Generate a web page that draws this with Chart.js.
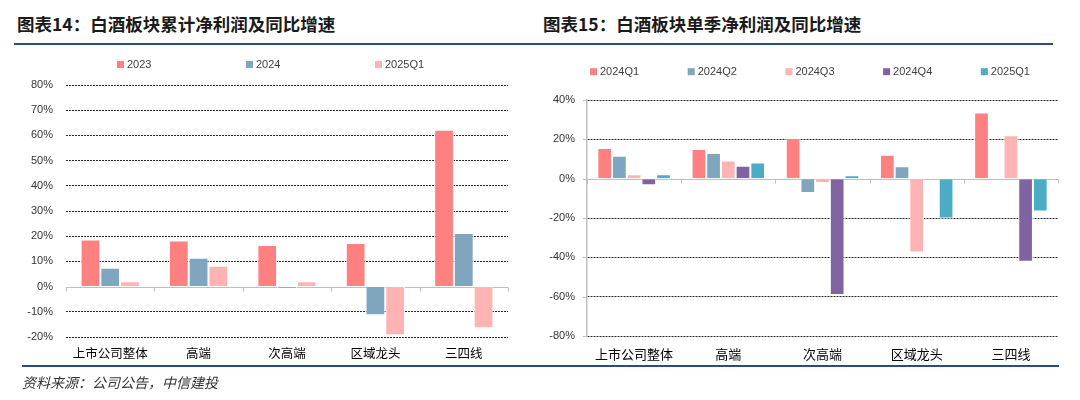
<!DOCTYPE html>
<html>
<head>
<meta charset="utf-8">
<script src="https://cdn.jsdelivr.net/npm/chart.js@4/dist/chart.umd.min.js"></script>
<style>
  html, body { margin: 0; padding: 0; background: #fff; }
  body { width: 1080px; height: 400px; position: relative; overflow: hidden; }
  .title { position: absolute; top: 12px; font: 700 17.5px "Noto Sans CJK SC", sans-serif; color: #1a1a1a; line-height: 24px; white-space: nowrap; }
  .rule { position: absolute; height: 2px; background: #2b4c7e; }
  .src { position: absolute; left: 22px; top: 372px; font: italic 14px "Noto Sans CJK SC", sans-serif; color: #333; line-height: 20px; }
  canvas { position: absolute; top: 0; }
</style>
</head>
<body>
<div class="title" style="left:17px">图表14：白酒板块累计净利润及同比增速</div>
<div class="title" style="left:543px">图表15：白酒板块单季净利润及同比增速</div>
<div class="rule" style="left:14px; width:1039px; top:43px"></div>
<canvas id="cumChart" width="540" height="400" style="left:0"></canvas>
<canvas id="qtrChart" width="540" height="400" style="left:540px"></canvas>
<div class="rule" style="left:22px; width:1037px; top:365px"></div>
<div class="src">资料来源：公司公告，中信建投</div>
<script>
const categories = ['上市公司整体', '高端', '次高端', '区域龙头', '三四线'];

// 累计净利润同比增速 (%)
const cumLabels = ['2023', '2024', '2025Q1'];
const cum2023 = [18.7, 18.3, 16.5, 17.3, 62.2];
const cum2024 = [7.5, 11.4, -0.7, -11.4, 21.3];
const cum2025Q1 = [2.1, 8.3, 2.1, -19.3, -16.5];

// 单季净利润同比增速 (%)
const qtrLabels = ['2024Q1', '2024Q2', '2024Q3', '2024Q4', '2025Q1'];
const q2024Q1 = [15.6, 15.1, 20.7, 12.2, 33.7];
const q2024Q2 = [11.7, 13.1, -7.3, 6.3, null];
const q2024Q3 = [2.2, 9.2, -2.2, -37.6, 22.1];
const q2024Q4 = [-3.3, 6.6, -59.2, null, -42.2];
const q2025Q1 = [2.2, 8.2, 1.7, -20.3, -16.7];

const RED = '#ff8080', BLUE = '#7fa6be', PINK = '#ffb3b3', PURPLE = '#8064a2', TEAL = '#4bacc6';

const numFont = { family: '"Liberation Sans", Arial, sans-serif', size: 11 };
const catFont = { family: '"Noto Sans CJK SC", sans-serif', size: 12.5 };

// legend drawn with fixed pitch like the Excel original
const flatLegend = {
  id: 'flatLegend',
  afterDraw(chart, args, opts) {
    const ctx = chart.ctx;
    ctx.save();
    ctx.font = '11px "Liberation Sans", Arial, sans-serif';
    ctx.textBaseline = 'middle';
    ctx.textAlign = 'left';
    chart.data.datasets.forEach((ds, i) => {
      const x = opts.x + i * opts.step;
      ctx.fillStyle = ds.backgroundColor;
      ctx.fillRect(x, opts.y - 3.5, 7, 7);
      ctx.fillStyle = '#404040';
      ctx.fillText(ds.label, x + 10, opts.y);
    });
    ctx.restore();
  }
};

// zero line with category tick marks, plus optional y tick marks
const axisMarks = {
  id: 'axisMarks',
  beforeDatasetsDraw(chart, args, opts) {
    const { ctx, chartArea: a } = chart;
    const y0 = Math.round(chart.scales.y.getPixelForValue(0)) + 0.5;
    const n = chart.data.labels.length;
    ctx.save();
    ctx.strokeStyle = '#bfbfbf';
    ctx.lineWidth = 1;
    ctx.beginPath();
    ctx.moveTo(a.left, y0);
    ctx.lineTo(a.right, y0);
    for (let i = 0; i <= n; i++) {
      const x = Math.round(a.left + i * (a.right - a.left) / n) + 0.5;
      ctx.moveTo(x, y0);
      ctx.lineTo(x, y0 + 4);
    }
    if (opts.yTicks) {
      chart.scales.y.ticks.forEach(t => {
        const y = Math.round(chart.scales.y.getPixelForValue(t.value)) + 0.5;
        ctx.moveTo(a.left - 4, y);
        ctx.lineTo(a.left, y);
      });
    }
    ctx.stroke();
    ctx.restore();
  }
};

function makeDataset(label, data, color) {
  return {
    label, data,
    backgroundColor: color,
    borderColor: 'rgba(255,255,255,0.85)',
    borderWidth: 1
  };
}

function baseOptions(cfg) {
  return {
    responsive: false,
    animation: false,
    layout: { padding: cfg.padding },
    plugins: {
      legend: { display: false },
      tooltip: { enabled: false },
      flatLegend: cfg.legend,
      axisMarks: { yTicks: cfg.yAxisLine }
    },
    datasets: { bar: { categoryPercentage: cfg.catPct, barPercentage: 1 } },
    scales: {
      x: {
        grid: { display: false, drawTicks: false },
        border: { display: false },
        ticks: { font: cfg.catFont, color: '#000', padding: cfg.xPad, maxRotation: 0, autoSkip: false },
        afterFit: s => { s.height = 30; }
      },
      y: {
        min: cfg.min, max: cfg.max,
        ticks: {
          stepSize: cfg.step, font: numFont, color: '#333', padding: cfg.yPad,
          callback: v => v + '%'
        },
        grid: {
          drawTicks: false,
          color: c => (c.tick && c.tick.value === 0) ? 'rgba(0,0,0,0)' : '#2a2a2a',
          lineWidth: 1
        },
        border: { display: cfg.yAxisLine, color: '#bfbfbf', width: 1.5, dash: [2, 1] },
        afterFit: s => { s.width = cfg.yWidth; }
      }
    }
  };
}

new Chart(document.getElementById('cumChart'), {
  type: 'bar',
  data: {
    labels: categories,
    datasets: [
      makeDataset(cumLabels[0], cum2023, RED),
      makeDataset(cumLabels[1], cum2024, BLUE),
      makeDataset(cumLabels[2], cum2025Q1, PINK)
    ]
  },
  options: baseOptions({
    padding: { left: 0, right: 32, top: 85, bottom: 33 },
    legend: { x: 117, y: 64.5, step: 129 },
    catPct: 0.67, min: -20, max: 80, step: 10,
    yWidth: 66, yPad: 13, xPad: 9, yAxisLine: false,
    catFont: catFont
  }),
  plugins: [flatLegend, axisMarks]
});

new Chart(document.getElementById('qtrChart'), {
  type: 'bar',
  data: {
    labels: categories,
    datasets: [
      makeDataset(qtrLabels[0], q2024Q1, RED),
      makeDataset(qtrLabels[1], q2024Q2, BLUE),
      makeDataset(qtrLabels[2], q2024Q3, PINK),
      makeDataset(qtrLabels[3], q2024Q4, PURPLE),
      makeDataset(qtrLabels[4], q2025Q1, TEAL)
    ]
  },
  options: baseOptions({
    padding: { left: 0, right: 22, top: 100, bottom: 34 },
    legend: { x: 50, y: 71.7, step: 97.7 },
    catPct: 0.78, min: -80, max: 40, step: 20,
    yWidth: 47, yPad: 12, xPad: 10, yAxisLine: true,
    catFont: { family: catFont.family, size: 13 }
  }),
  plugins: [flatLegend, axisMarks]
});
</script>
</body>
</html>
